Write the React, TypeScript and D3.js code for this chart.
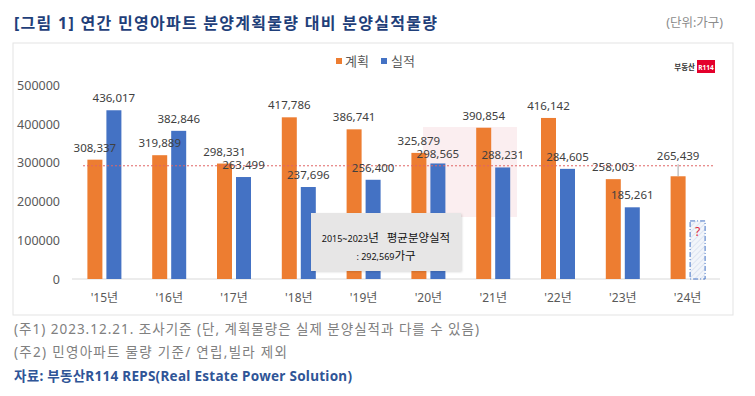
import * as d3 from 'd3';

// chart data
const years = ["'15년", "'16년", "'17년", "'18년", "'19년", "'20년", "'21년", "'22년", "'23년", "'24년"];
const planned = [308337, 319889, 298331, 417786, 386741, 325879, 390854, 416142, 258003, 265439];
const actual: (number | null)[] = [436017, 382846, 263499, 237696, 256400, 298565, 288231, 284605, 185261, null];
const yTicks = [0, 100000, 200000, 300000, 400000, 500000];
const avgActual = 292569;
const unknownGuess = 150000; // height of the dashed "?" placeholder for '24
const seriesNames = ['계획', '실적'];

const W = 755;
const H = 396;
const ORANGE = '#ED7D31';
const BLUE = '#4472C4';
const FONT = "'Noto Sans', 'Noto Sans CJK KR', sans-serif";

export default function App() {
  const x = d3.scaleBand<string>().domain(years).range([72, 720]).padding(0);
  const inner = d3
    .scaleBand<string>()
    .domain(seriesNames)
    .range([x.bandwidth() / 2 - 17, x.bandwidth() / 2 + 17])
    .paddingInner(4 / 19);
  const y = d3.scaleLinear().domain([0, 500000]).range([279, 85.5]);
  const fmt = d3.format(',');
  const bw = inner.bandwidth();
  const last = years.length - 1;
  const labelGap = 8;
  const lineH = 13;

  return (
    <svg width={W} height={H} style={{ position: 'absolute', left: 0, top: 0, fontFamily: FONT }}>
      <defs>
        <pattern id="hatch" width="4" height="4" patternUnits="userSpaceOnUse" patternTransform="rotate(45)">
          <rect width="4" height="4" fill="#F2F5FA" />
          <line x1="0" y1="0" x2="0" y2="4" stroke="#C9D3E8" strokeWidth="1" />
        </pattern>
        <filter id="shadow" x="-10%" y="-10%" width="130%" height="130%">
          <feDropShadow dx="1" dy="1" stdDeviation="1" floodColor="#000" floodOpacity="0.15" />
        </filter>
      </defs>
      <rect width={W} height={H} fill="#fff" />

      {/* title */}
      <text x={14} y={29} fontSize={16} fontWeight="bold" fill="#1F3F7A" textLength={423} lengthAdjust="spacing">
        [그림 1] 연간 민영아파트 분양계획물량 대비 분양실적물량
      </text>
      <text x={723} y={27} fontSize={12.5} fill="#8C8C8C" textAnchor="end">
        (단위:가구)
      </text>

      {/* chart frame */}
      <rect x={13} y={43} width={720} height={272} fill="#fff" stroke="#E3E3E3" />

      {/* faint watermark block */}
      <rect x={423} y={127} width={94} height={90} fill="#F9E3E6" opacity={0.6} />

      {/* legend */}
      <rect x={336} y={58} width={6} height={6} fill={ORANGE} />
      <text x={345} y={66} fontSize={13} fill="#595959">계획</text>
      <rect x={381} y={58} width={6} height={6} fill={BLUE} />
      <text x={391} y={66} fontSize={13} fill="#595959">실적</text>

      {/* logo */}
      <text x={695} y={69.5} fontSize={7.5} fontWeight="bold" fill="#333" textAnchor="end">부동산</text>
      <rect x={697} y={60} width={18} height={13} fill="#E4002B" />
      <text x={706} y={69.5} fontSize={6.5} fontWeight="bold" fill="#fff" textAnchor="middle">R114</text>

      {/* y axis labels */}
      {yTicks.map((t) => (
        <text key={t} x={60} y={y(t) + 4.5} fontSize={12.5} fill="#595959" textAnchor="end">
          {t}
        </text>
      ))}

      {/* x axis */}
      <line x1={72} x2={720} y1={y(0)} y2={y(0)} stroke="#D9D9D9" />
      {years.map((yr) => (
        <text key={yr} x={(x(yr) ?? 0) + x.bandwidth() / 2} y={302} fontSize={12} fill="#595959" textAnchor="middle">
          {yr}
        </text>
      ))}

      {/* bars */}
      {years.map((yr, i) => {
        const x0 = x(yr) ?? 0;
        const px = x0 + (inner('계획') ?? 0);
        const ax = x0 + (inner('실적') ?? 0);
        const a = actual[i];
        return (
          <g key={yr}>
            <rect x={px} y={y(planned[i])} width={bw} height={y(0) - y(planned[i])} fill={ORANGE} />
            {a !== null ? (
              <rect x={ax} y={y(a)} width={bw} height={y(0) - y(a)} fill={BLUE} />
            ) : (
              <g>
                <rect
                  x={ax + 0.5}
                  y={y(unknownGuess)}
                  width={bw}
                  height={y(0) - y(unknownGuess)}
                  fill="url(#hatch)"
                  stroke={BLUE}
                  strokeWidth={1}
                  strokeDasharray="5 2 1 2"
                />
                <text x={ax + bw / 2 + 0.5} y={y(unknownGuess) + 15} fontSize={12} fill="#E0253A" textAnchor="middle">
                  ?
                </text>
              </g>
            )}
          </g>
        );
      })}

      {/* average line */}
      <line x1={83} x2={713} y1={y(avgActual)} y2={y(avgActual)} stroke="#E06666" strokeWidth={1} strokeDasharray="2 2" />

      {/* value labels */}
      {years.map((yr, i) => {
        const x0 = x(yr) ?? 0;
        const pc = x0 + (inner('계획') ?? 0) + bw / 2;
        const ac = x0 + (inner('실적') ?? 0) + bw / 2;
        const a = actual[i];
        const lift = i === last ? 8 : 0;
        const pb = y(planned[i]) - labelGap - lift;
        let ab = a !== null ? y(a) - labelGap : 0;
        // nudge the 실적 label down when it would sit on top of the 계획 label
        if (a !== null && a < planned[i] && ab - pb < lineH) ab = pb + lineH;
        return (
          <g key={yr} fontSize={11.5} fill="#404040" textAnchor="middle">
            {i === last && (
              <line x1={pc} x2={pc} y1={pb + 4} y2={y(planned[i])} stroke="#A6A6A6" />
            )}
            <text x={pc} y={pb}>{fmt(planned[i])}</text>
            {a !== null && <text x={ac} y={ab}>{fmt(a)}</text>}
          </g>
        );
      })}

      {/* annotation box */}
      <rect x={311} y={213} width={150} height={58} fill="#E7E6E6" filter="url(#shadow)" />
      <text x={386} y={242} textAnchor="middle" fill="#111">
        <tspan fontSize={9}>2015~2023</tspan>
        <tspan fontSize={11.5}>년</tspan>
        <tspan fontSize={11.5} dx={8}>평균분양실적</tspan>
      </text>
      <text x={386} y={260} textAnchor="middle" fill="#111">
        <tspan fontSize={9}>: {fmt(avgActual)}</tspan>
        <tspan fontSize={11.5}>가구</tspan>
      </text>

      {/* notes */}
      <text x={14} y={334} fontSize={13.5} fill="#808080" textLength={465} lengthAdjust="spacing">
        (주1) 2023.12.21. 조사기준 (단, 계획물량은 실제 분양실적과 다를 수 있음)
      </text>
      <text x={14} y={357} fontSize={13.5} fill="#808080" textLength={273} lengthAdjust="spacing">
        (주2) 민영아파트 물량 기준/ 연립,빌라 제외
      </text>
      <text x={14} y={381} fontSize={13.5} fontWeight="bold" fill="#2F5597" textLength={338} lengthAdjust="spacing">
        자료: 부동산R114 REPS(Real Estate Power Solution)
      </text>
    </svg>
  );
}
